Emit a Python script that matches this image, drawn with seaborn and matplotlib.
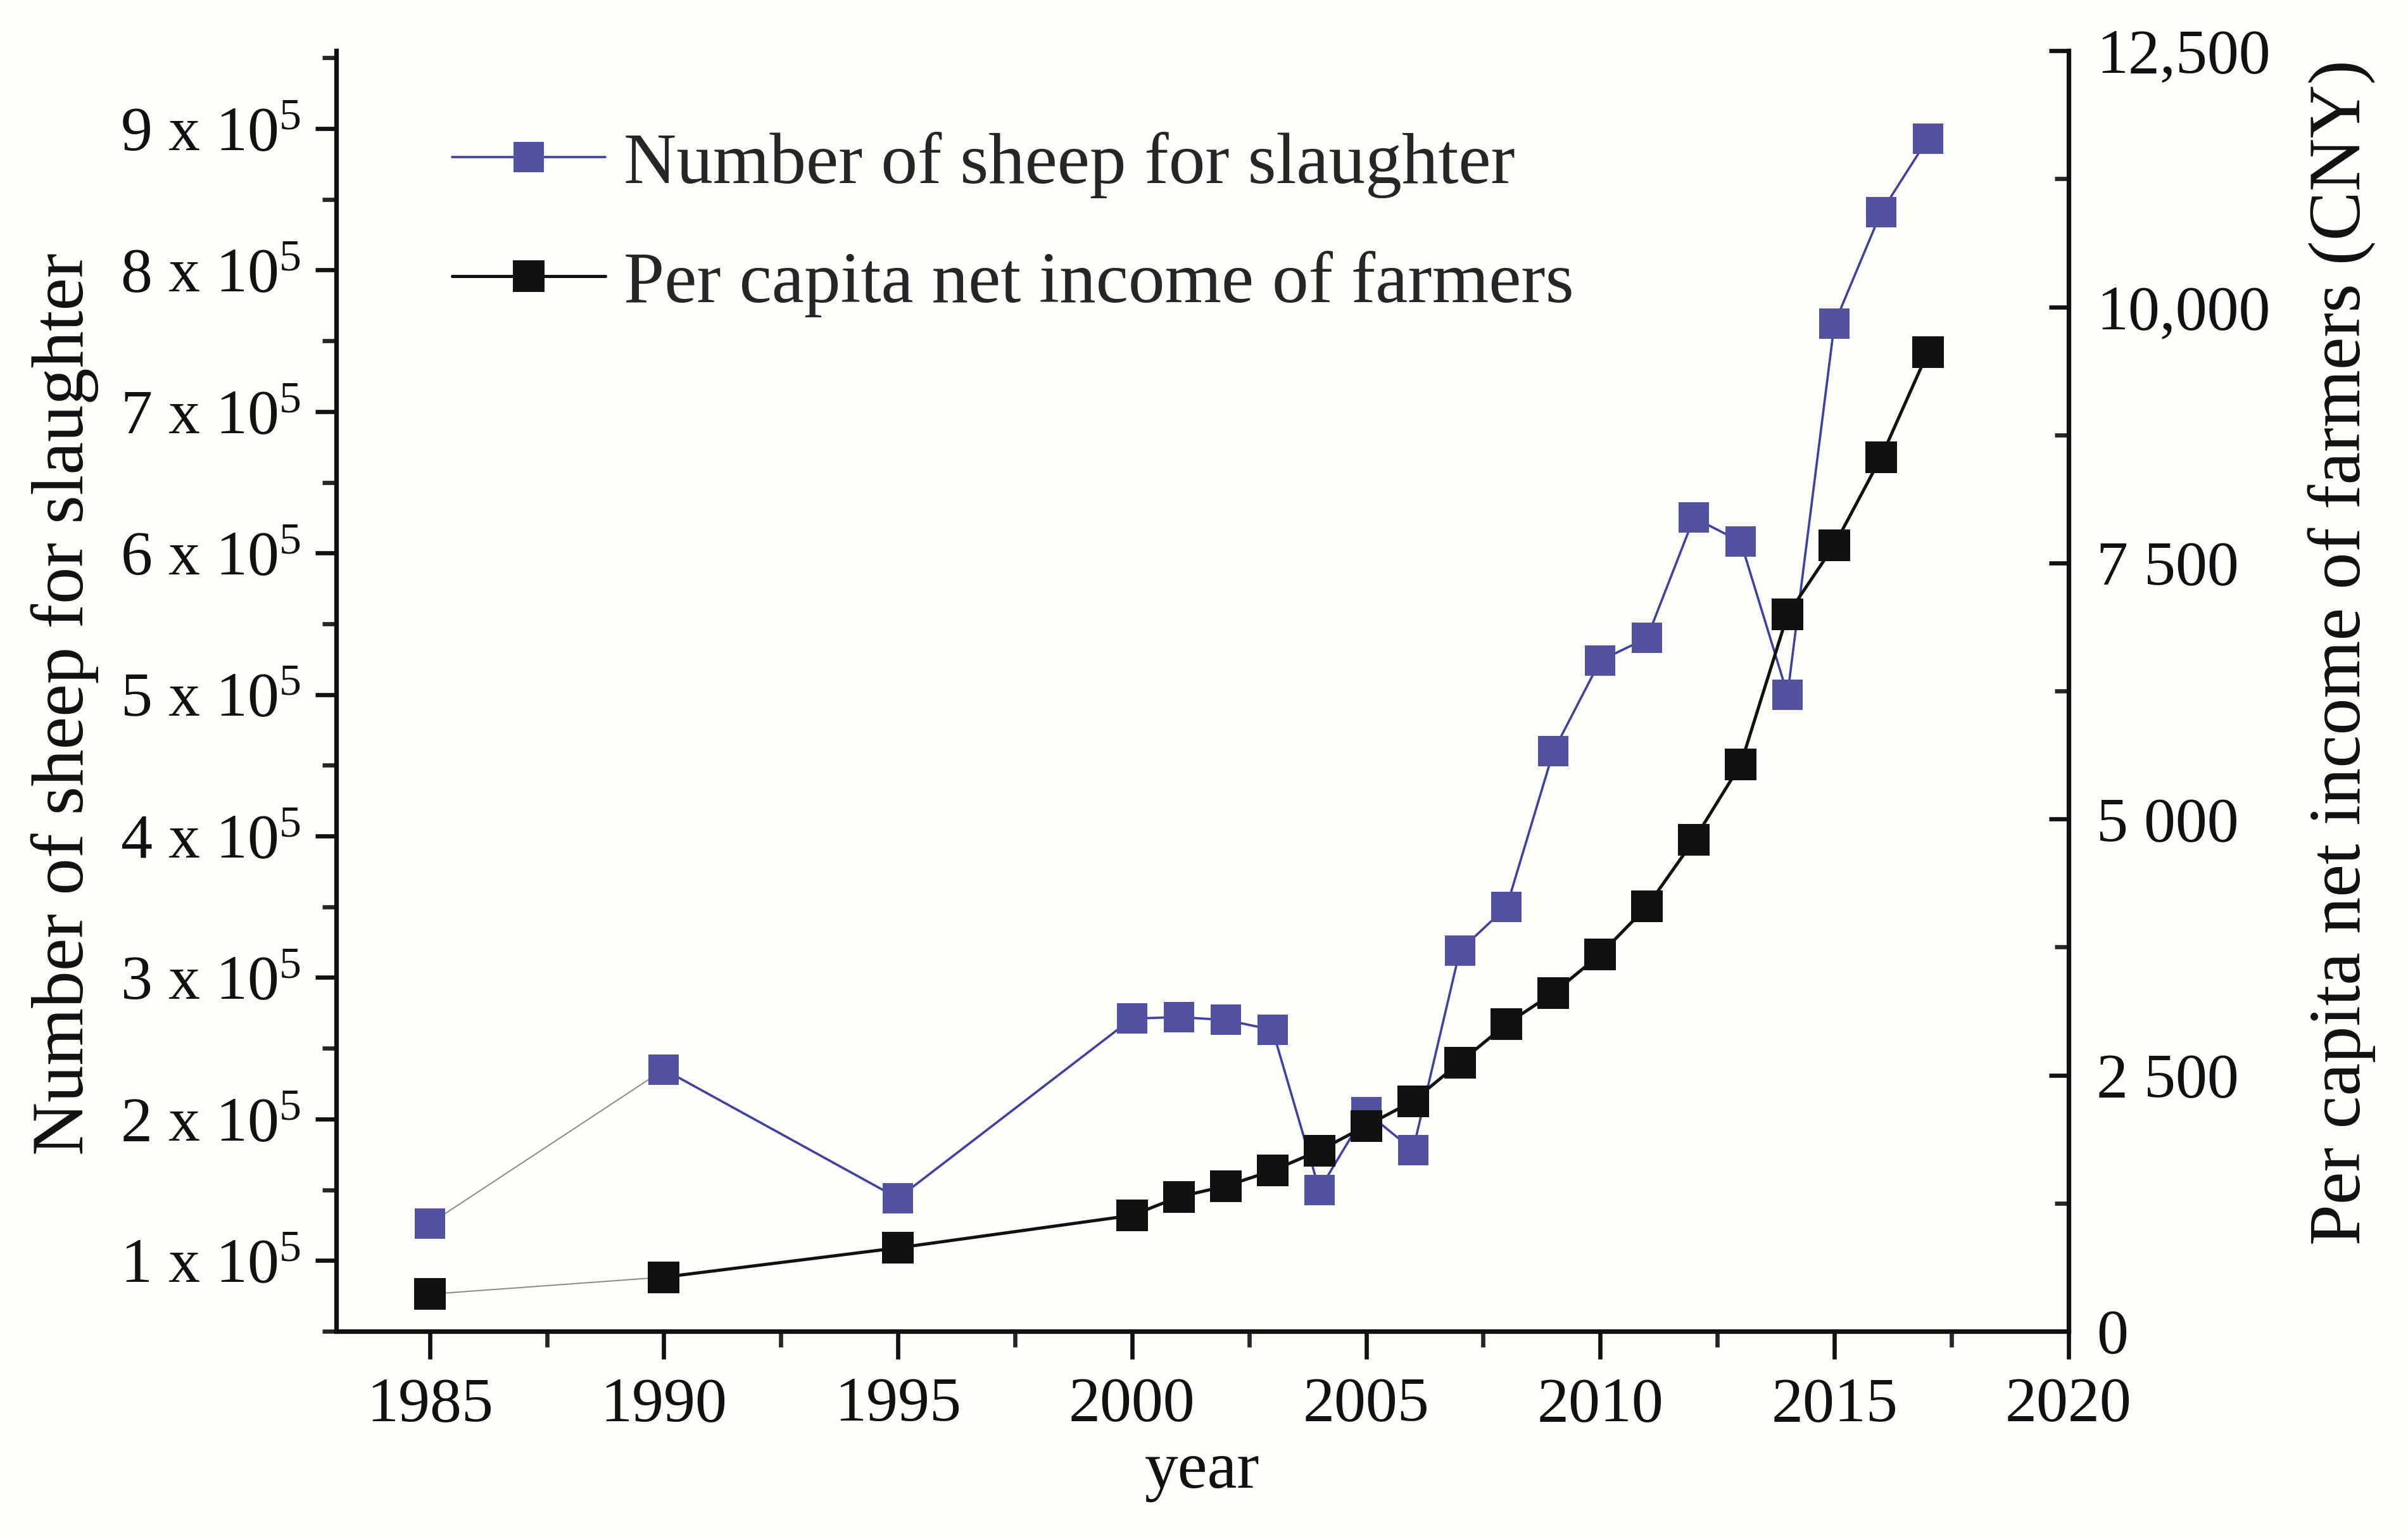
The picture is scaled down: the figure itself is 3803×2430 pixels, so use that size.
import numpy as np
import pandas as pd
import seaborn as sns
import matplotlib
matplotlib.use("Agg")
import matplotlib.pyplot as plt
from matplotlib.ticker import FixedLocator, MultipleLocator

# values
years = [1985, 1990, 1995, 2000, 2001, 2002, 2003, 2004, 2005, 2006, 2007,
         2008, 2009, 2010, 2011, 2012, 2013, 2014, 2015, 2016, 2017]
sheep = [1.26e5, 2.35e5, 1.44e5, 2.71e5, 2.72e5, 2.70e5, 2.63e5, 1.50e5, 2.05e5, 1.78e5, 3.19e5,
         3.50e5, 4.60e5, 5.24e5, 5.40e5, 6.25e5, 6.08e5, 5.00e5, 7.62e5, 8.41e5, 8.93e5]
income = [362, 528, 814, 1131, 1312, 1417, 1568, 1764, 2005, 2247, 2624,
          3000, 3302, 3679, 4147, 4795, 5534, 6996, 7675, 8534, 9560]

left_ticks = [1e5, 2e5, 3e5, 4e5, 5e5, 6e5, 7e5, 8e5, 9e5]
left_labels = [f"{i} x 10$^{{5}}$" for i in range(1, 10)]
right_ticks = [0, 2500, 5000, 7500, 10000, 12500]
right_labels = ["0", "2 500", "5 000", "7 500", "10,000", "12,500"]
x_ticks = [1985, 1990, 1995, 2000, 2005, 2010, 2015, 2020]

df = pd.DataFrame({"year": years, "sheep": sheep, "income": income})

sns.set_theme(style="ticks")
plt.rcParams["font.family"] = ["Liberation Serif", "DejaVu Serif"]
plt.rcParams["mathtext.fontset"] = "custom"
plt.rcParams["mathtext.rm"] = "Liberation Serif"
plt.rcParams["mathtext.it"] = "Liberation Serif:italic"

bg = "#fdfdf9"
blue = "#5252a0"
blue_line = "#4040a0"
black = "#111111"

fig = plt.figure(figsize=(19.015, 12.15), dpi=200, facecolor=bg)
ax = fig.add_axes([0.1396, 0.135, 0.859 - 0.1396, 0.967 - 0.135], facecolor=bg)
ax2 = ax.twinx()

# first segment (1985-1990) is drawn as a thin grey line in the original
sns.lineplot(data=df.iloc[:2], x="year", y="sheep", ax=ax, color="#888888",
             linewidth=0.7, legend=False)
sns.lineplot(data=df.iloc[1:], x="year", y="sheep", ax=ax, color=blue_line,
             linewidth=1.3, legend=False)
sns.lineplot(data=df, x="year", y="sheep", ax=ax, color=blue, linestyle="none",
             marker="s", markersize=17, markeredgewidth=0, legend=False)

sns.lineplot(data=df.iloc[:2], x="year", y="income", ax=ax2, color="#888888",
             linewidth=0.7, legend=False)
sns.lineplot(data=df.iloc[1:], x="year", y="income", ax=ax2, color=black,
             linewidth=1.8, legend=False)
sns.lineplot(data=df, x="year", y="income", ax=ax2, color=black, linestyle="none",
             marker="s", markersize=18, markeredgewidth=0, legend=False)

ax.set_xlim(1983, 2020)
ax.set_ylim(0.5e5, 9.55e5)
ax2.set_ylim(0, 12500)

ax.xaxis.set_major_locator(FixedLocator(x_ticks))
ax.xaxis.set_minor_locator(MultipleLocator(2.5))
ax.set_yticks(left_ticks)
ax.set_yticklabels(left_labels)
ax.yaxis.set_minor_locator(MultipleLocator(0.5e5))
ax2.set_yticks(right_ticks)
ax2.set_yticklabels(right_labels)
ax2.yaxis.set_minor_locator(MultipleLocator(1250))

for a in (ax, ax2):
    a.spines["top"].set_visible(False)
    for s in a.spines.values():
        s.set_linewidth(2.6)
        s.set_color(black)
ax.spines["right"].set_visible(False)
ax2.spines["left"].set_visible(False)
ax2.spines["bottom"].set_visible(False)

ax.tick_params(axis="x", which="major", direction="out", length=16, width=2.4,
               labelsize=36, pad=10, colors=black)
ax.tick_params(axis="x", which="minor", direction="out", length=9, width=2.4)
ax.tick_params(axis="y", which="major", direction="out", length=12, width=2.4,
               labelsize=36, pad=8, colors=black)
ax.tick_params(axis="y", which="minor", direction="out", length=8, width=2.4)
ax2.tick_params(axis="y", which="major", direction="in", length=11, width=2.4,
                labelsize=36, pad=16, colors=black)
ax2.tick_params(axis="y", which="minor", direction="in", length=8, width=2.4)

ax.set_xlabel("year", fontsize=38, labelpad=4, color=black)
ax.set_ylabel("Number of sheep for slaughter", fontsize=42, color=black)
ax2.set_ylabel("Per capita net income of farmers (CNY)", fontsize=42, color=black)
ax.yaxis.set_label_coords(-0.137, 0.49)
ax2.yaxis.set_label_coords(1.138, 0.53)

# legend handles built from the plotted styles
h1 = plt.Line2D([], [], color=blue_line, linewidth=1.3, marker="s",
                markersize=17, markerfacecolor=blue, markeredgewidth=0)
h2 = plt.Line2D([], [], color=black, linewidth=1.8, marker="s",
                markersize=18, markerfacecolor=black, markeredgewidth=0)
ax.legend([h1, h2], ["Number of sheep for slaughter", "Per capita net income of farmers"],
          loc="upper left", bbox_to_anchor=(0.067, 0.937), frameon=False,
          fontsize=41.5, handlelength=2.1, handletextpad=0.25, labelspacing=0.72,
          borderpad=0, borderaxespad=0)

fig.savefig("out.png", dpi=200, facecolor=bg)
